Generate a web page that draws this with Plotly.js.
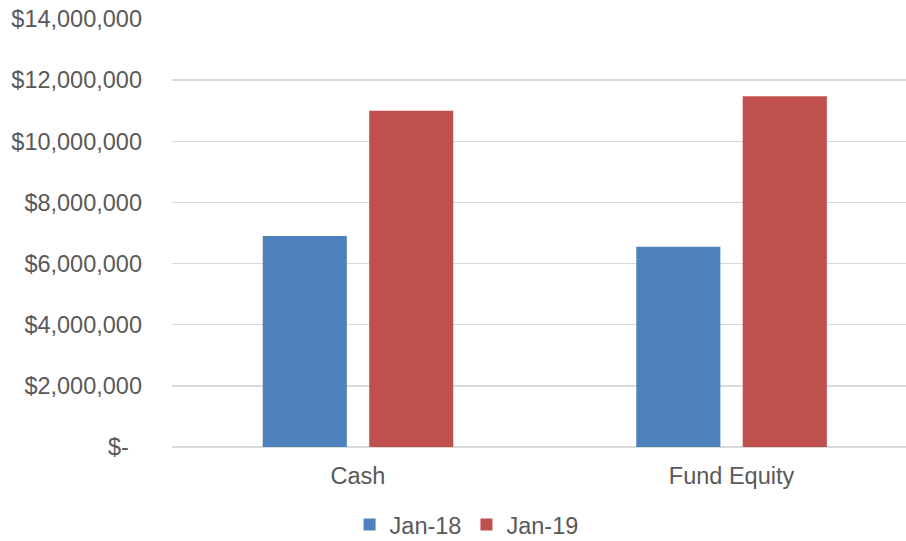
<!DOCTYPE html>
<html>
<head>
<meta charset="utf-8">
<script src="https://cdn.plot.ly/plotly-3.0.1.min.js"></script>
<style>html,body{margin:0;padding:0;background:#fff;}#chart{width:906px;height:541px;}</style>
</head>
<body>
<div id="chart"></div>
<script>
const categories = ["Cash", "Fund Equity"];
const seriesNames = ["Jan-18", "Jan-19"];
const jan18 = [6900000, 6550000];
const jan19 = [11000000, 11470000];
const tickValues = [0, 2000000, 4000000, 6000000, 8000000, 10000000, 12000000, 14000000];
const tickLabels = ["$-\u00a0\u00a0", "$2,000,000", "$4,000,000", "$6,000,000", "$8,000,000", "$10,000,000", "$12,000,000", "$14,000,000"];

const font = {family: "Liberation Sans, Arial, sans-serif", size: 23.5, color: "#595959"};

const data = [
  {type: "bar", name: seriesNames[0], x: categories, y: jan18, marker: {color: "#4f81bd"}},
  {type: "bar", name: seriesNames[1], x: categories, y: jan19, marker: {color: "#c0504d"}}
];

const layout = {
  width: 906, height: 541,
  margin: {l: 172, r: 0, t: 18.5, b: 94},
  paper_bgcolor: "#fff", plot_bgcolor: "#fff",
  font: font,
  barmode: "group",
  bargap: 0.43,
  bargroupgap: 0.21,
  showlegend: true,
  legend: {orientation: "h", xref: "container", x: 0.515, xanchor: "center", yref: "container", y: 0.03, yanchor: "middle", font: font, itemwidth: 30, traceorder: "normal"},
  xaxis: {
    type: "category", range: [-0.498, 1.467], showgrid: false, zeroline: false,
    showline: false, ticks: "", ticklabelstandoff: 12, tickfont: font, fixedrange: true
  },
  yaxis: {
    range: [0, 14000000], tickmode: "array", tickvals: tickValues, ticktext: tickLabels,
    showgrid: true, gridcolor: "#d9d9d9", gridwidth: 1.3,
    zeroline: true, zerolinecolor: "#d9d9d9", zerolinewidth: 2,
    showline: false, ticks: "", ticklabelstandoff: 29, tickfont: font, fixedrange: true
  }
};

Plotly.newPlot("chart", data, layout, {displayModeBar: false, staticPlot: true});
</script>
</body>
</html>
